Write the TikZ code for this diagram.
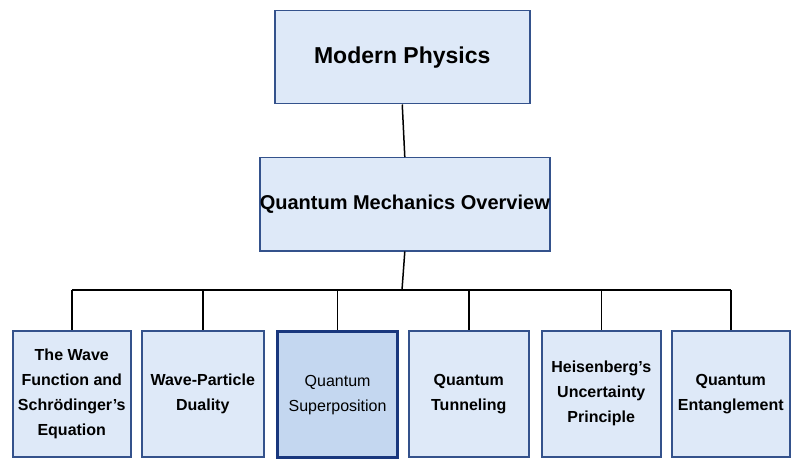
\documentclass[tikz,border=0pt]{standalone}
\usepackage{fontspec}
\setmainfont{Liberation Sans}
\definecolor{bfill}{RGB}{222,233,248}
\definecolor{bdraw}{RGB}{52,82,140}
\definecolor{hfill}{RGB}{196,215,240}
\definecolor{hdraw}{RGB}{25,55,125}
\begin{document}
\begin{tikzpicture}[x=1pt,y=-1pt,
 box/.style={draw=bdraw, line width=1.5pt, fill=bfill, align=center, font=\bfseries, inner sep=0pt, anchor=north west},
 leaf/.style={box, font=\bfseries\fontsize{16}{25}\selectfont},
 hl/.style={leaf, draw=hdraw, line width=3.2pt, fill=hfill, font=\fontsize{16}{25}\selectfont},
 conn/.style={line width=1.5pt, black}]
\useasboundingbox (0,0) rectangle (800,465);
\node[box, minimum width=255, minimum height=93, font=\bfseries\fontsize{23}{26}\selectfont] (mp) at (274,10) {Modern Physics};
\node[box, minimum width=286, minimum height=93, font=\bfseries\fontsize{20}{24}\selectfont] (qm) at (259,157) {Quantum Mechanics Overview};
\node[leaf, minimum width=118, minimum height=126] (b1) at (12,330) {The Wave\\Function and\\Schrödinger's\\Equation};
\node[leaf, minimum width=122, minimum height=126] (b2) at (141,330) {Wave-Particle\\Duality};
\node[hl, minimum width=120, minimum height=126] (b3) at (276,330) {Quantum\\Superposition};
\node[leaf, minimum width=120, minimum height=126] (b4) at (408,330) {Quantum\\Tunneling};
\node[leaf, minimum width=119, minimum height=126] (b5) at (541,330) {Heisenberg's\\Uncertainty\\Principle};
\node[leaf, minimum width=118, minimum height=126] (b6) at (671,330) {Quantum\\Entanglement};
\draw[conn] (mp.south) -- (qm.north);
\coordinate (j) at (402,290);
\draw[conn] (qm.south) -- (j);
\draw[conn] (b1.north |- j) -- (b6.north |- j);
\foreach \b in {b1,b2,b3,b4,b5,b6} \draw[conn] (\b.north |- j) -- (\b.north);
\end{tikzpicture}
\end{document}
